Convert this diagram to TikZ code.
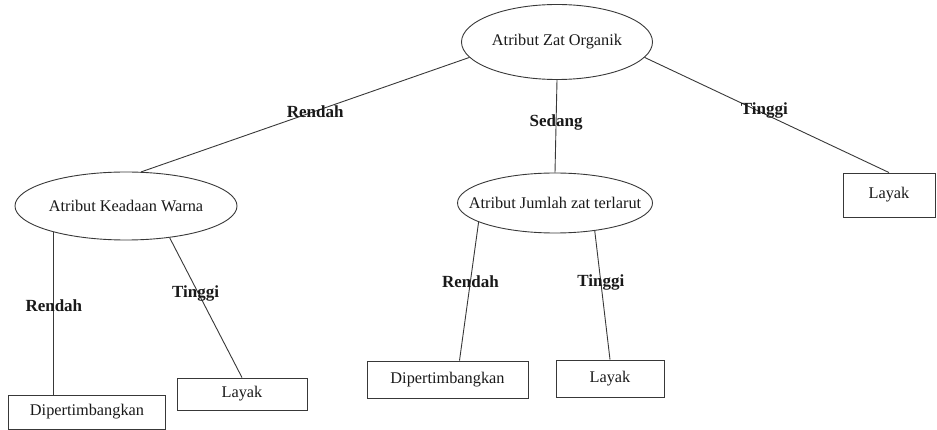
\documentclass[tikz,border=0pt]{standalone}
\usepackage{fontspec}
\setmainfont{Liberation Serif}
\usetikzlibrary{shapes.geometric}
\definecolor{linec}{gray}{0.22}
\definecolor{textc}{gray}{0.1}
\tikzset{
  attr/.style={ellipse, draw=linec, line width=0.9pt, inner sep=0pt, text=textc,
    font=\fontsize{16.3}{18}\selectfont},
  leaf/.style={rectangle, draw=linec, line width=0.9pt, inner sep=0pt, text=textc,
    font=\fontsize{16.3}{18}\selectfont},
  conn/.style={draw=linec, line width=0.9pt},
  lbl/.style={font=\fontsize{17}{19}\selectfont\bfseries, text=textc, inner sep=1pt}
}
\begin{document}
\begin{tikzpicture}[x=1pt,y=-1pt]
\useasboundingbox (0,0) rectangle (937,430);
\node[attr, minimum width=191pt, minimum height=75pt] (root) at (557,42) {Atribut Zat Organik};
\node[attr, minimum width=222pt, minimum height=68pt] (warna) at (126,206) {Atribut Keadaan Warna};
\node[attr, inner xsep=-22pt, minimum width=195pt, minimum height=60pt] (jumlah) at (555,203) {Atribut Jumlah zat terlarut};
\node[leaf, minimum width=92pt, minimum height=44pt] (layak1) at (889,195) {Layak};
\node[leaf, minimum width=157pt, minimum height=34pt] (dip1) at (87,412) {Dipertimbangkan};
\node[leaf, minimum width=130pt, minimum height=32pt] (layak2) at (242,394) {Layak};
\node[leaf, minimum width=161pt, minimum height=37pt] (dip2) at (447.5,379.5) {Dipertimbangkan};
\node[leaf, minimum width=108pt, minimum height=37pt] (layak3) at (610,378.5) {Layak};

\draw[conn] (root.190) -- node[lbl, pos=0.47] (l1) {Rendah} (warna.66);
\draw[conn] (root.south) -- node[lbl, pos=0.46] (l2) {Sedang} (jumlah.north);
\draw[conn] (root.-10) -- node[lbl, pos=0.49, yshift=3pt] (l3) {Tinggi} (layak1.north);
\draw[conn] (warna.200) -- node[lbl, pos=0.45] (l4) {Rendah} (warna.200 |- dip1.north);
\draw[conn] (warna.-36) -- node[lbl, pos=0.40, xshift=-3pt] (l5) {Tinggi} (layak2.north);
\draw[conn] (jumlah.194) -- node[lbl, pos=0.43] (l6) {Rendah} ([xshift=12pt]dip2.north);
\draw[conn] (jumlah.-35) -- node[lbl, pos=0.40] (l7) {Tinggi} (layak3.north);
\end{tikzpicture}
\end{document}
